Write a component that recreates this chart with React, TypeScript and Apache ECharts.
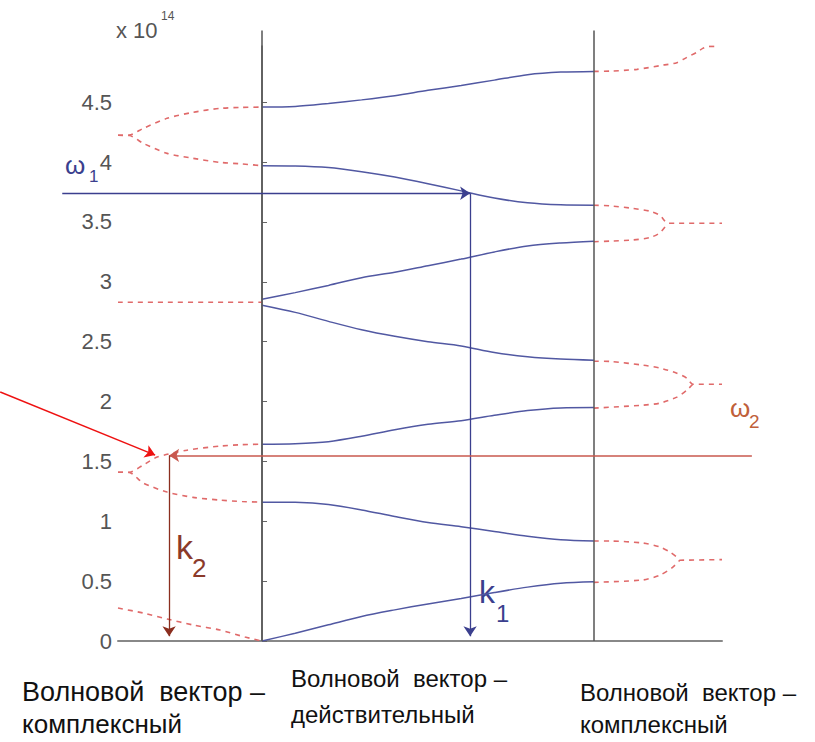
import React, { useEffect, useRef } from "react";
import * as echarts from "echarts";

// ---- data (ω in units of 1e14 rad/s, k in relative units; middle zone = real k from 0 to 1) ----
const yTicks = [0, 0.5, 1, 1.5, 2, 2.5, 3, 3.5, 4, 4.5];

const kReal = [0, 0.1, 0.2, 0.3, 0.4, 0.5, 0.6, 0.7, 0.8, 0.9, 1.0];
const band1 = [0, 0.065, 0.135, 0.205, 0.26, 0.31, 0.355, 0.405, 0.45, 0.483, 0.495];
const band2 = [1.16, 1.158, 1.14, 1.095, 1.04, 0.99, 0.955, 0.915, 0.875, 0.845, 0.835];
const band3 = [1.644, 1.648, 1.665, 1.71, 1.765, 1.81, 1.84, 1.885, 1.925, 1.947, 1.95];
const band4 = [2.805, 2.745, 2.67, 2.6, 2.545, 2.5, 2.465, 2.41, 2.375, 2.355, 2.345];
const band5 = [2.855, 2.91, 2.97, 3.035, 3.08, 3.135, 3.19, 3.25, 3.3, 3.325, 3.34];
const band6 = [3.97, 3.968, 3.955, 3.92, 3.875, 3.82, 3.76, 3.7, 3.66, 3.643, 3.64];
const band7 = [4.46, 4.465, 4.49, 4.52, 4.555, 4.6, 4.64, 4.685, 4.73, 4.752, 4.758];

// left zone (complex k)
const lTopUpK = [-0.434, -0.4, -0.358, -0.286, -0.208, -0.127, -0.06, 0];
const lTopUpW = [4.224, 4.226, 4.282, 4.366, 4.416, 4.449, 4.457, 4.46];
const lTopLoK = [-0.434, -0.4, -0.358, -0.286, -0.208, -0.127, -0.06, 0];
const lTopLoW = [4.224, 4.222, 4.157, 4.073, 4.032, 3.998, 3.985, 3.97];
const lMidK = [-0.434, 0];
const lMidW = [2.83, 2.83];
const lLowUpK = [-0.434, -0.4, -0.358, -0.316, -0.226, -0.127, -0.06, 0];
const lLowUpW = [1.41, 1.41, 1.47, 1.536, 1.594, 1.628, 1.64, 1.644];
const lLowLoK = [-0.434, -0.4, -0.358, -0.286, -0.208, -0.127, -0.06, 0];
const lLowLoW = [1.41, 1.408, 1.32, 1.244, 1.2, 1.177, 1.165, 1.16];
const lBotK = [-0.434, -0.358, -0.286, -0.208, -0.127, -0.051, 0];
const lBotW = [0.275, 0.234, 0.184, 0.134, 0.092, 0.033, 0];

// right zone (complex k)
const rTopK = [1, 1.048, 1.13, 1.208, 1.25, 1.28, 1.31, 1.328, 1.345, 1.37];
const rTopW = [4.758, 4.76, 4.775, 4.81, 4.83, 4.875, 4.917, 4.95, 4.967, 4.967];
const r3UpK = [1, 1.048, 1.117, 1.169, 1.199, 1.223, 1.386];
const r3UpW = [3.64, 3.635, 3.614, 3.59, 3.556, 3.49, 3.49];
const r3LoK = [1, 1.048, 1.117, 1.169, 1.199, 1.223];
const r3LoW = [3.335, 3.34, 3.35, 3.37, 3.41, 3.49];
const r2UpK = [1, 1.048, 1.148, 1.199, 1.25, 1.28, 1.298, 1.386];
const r2UpW = [2.337, 2.335, 2.304, 2.28, 2.237, 2.195, 2.145, 2.145];
const r2LoK = [1, 1.148, 1.199, 1.25, 1.28, 1.298];
const r2LoW = [1.945, 1.97, 1.987, 2.037, 2.095, 2.145];
const r1UpK = [1, 1.048, 1.148, 1.199, 1.229, 1.25, 1.259, 1.386];
const r1UpW = [0.835, 0.835, 0.818, 0.785, 0.743, 0.7, 0.675, 0.68];
const r1LoK = [1, 1.148, 1.199, 1.235, 1.259];
const r1LoW = [0.49, 0.51, 0.55, 0.61, 0.675];

// arrows
const omega1 = 3.74;
const k1 = 0.627;
const omega2 = 1.55;
const k2 = -0.28;
const zoneBounds = [0, 1];

const BLUE = "#5158a2";
const NAVY = "#3b3f8e";
const RED_DASH = "#e06a6a";
const GRAY = "#555555";

function zip(k: number[], w: number[]) {
  return k.map((v, i) => [v, w[i]]);
}

export default function App() {
  const ref = useRef<HTMLDivElement>(null);
  useEffect(() => {
    if (!ref.current) return;
    const chart = echarts.init(ref.current, undefined, { renderer: "svg" });

    const realBands = [band1, band2, band3, band4, band5, band6, band7];
    const complexBranches: [number[], number[]][] = [
      [lTopUpK, lTopUpW], [lTopLoK, lTopLoW], [lMidK, lMidW], [lLowUpK, lLowUpW],
      [lLowLoK, lLowLoW], [lBotK, lBotW], [rTopK, rTopW], [r3UpK, r3UpW], [r3LoK, r3LoW],
      [r2UpK, r2UpW], [r2LoK, r2LoW], [r1UpK, r1UpW], [r1LoK, r1LoW],
    ];

    const series: any[] = [];
    realBands.forEach((b) =>
      series.push({
        type: "line",
        data: zip(kReal, b),
        smooth: 0.3,
        symbol: "none",
        lineStyle: { color: BLUE, width: 1.5 },
        z: 3,
      })
    );
    complexBranches.forEach(([k, w]) =>
      series.push({
        type: "line",
        data: zip(k, w),
        smooth: 0.25,
        symbol: "none",
        lineStyle: { color: RED_DASH, width: 1.6, type: [5, 5] },
        z: 2,
      })
    );
    // zone boundaries
    series.push({
      type: "lines",
      coordinateSystem: "cartesian2d",
      clip: false,
      symbol: "none",
      lineStyle: { color: GRAY, width: 1.5, opacity: 1 },
      data: zoneBounds.map((x) => ({ coords: [[x, 0], [x, 5.1]] })),
      z: 4,
    });
    // arrows
    series.push({
      type: "lines",
      coordinateSystem: "cartesian2d",
      clip: false,
      symbol: ["none", "arrow"],
      symbolSize: 10,
      data: [
        { coords: [[-0.602, omega1], [k1, omega1]], lineStyle: { color: NAVY, width: 1.3, opacity: 1 } },
        { coords: [[k1, omega1], [k1, 0.04]], lineStyle: { color: NAVY, width: 1.3, opacity: 1 } },
        { coords: [[1.476, omega2], [k2, omega2]], lineStyle: { color: "#c8584e", width: 1.5, opacity: 1 } },
        { coords: [[k2, omega2], [k2, 0.04]], lineStyle: { color: "#8b2e1f", width: 1.3, opacity: 1 } },
        { coords: [[-0.789, 2.08], [-0.322, 1.553]], lineStyle: { color: "#ee1111", width: 1.5, opacity: 1 } },
      ],
      z: 5,
    });

    const textFont = (size: number) => `${size}px "Liberation Sans", Arial, sans-serif`;
    const graphic: any[] = [
      { type: "text", x: 116, y: 30, style: { text: "x 10", font: textFont(22), fill: GRAY, textVerticalAlign: "middle" } },
      { type: "text", x: 161, y: 16, style: { text: "14", font: textFont(12), fill: GRAY, textVerticalAlign: "middle" } },
      { type: "text", x: 65, y: 165, style: { text: "ω", font: textFont(26), fill: NAVY, textVerticalAlign: "middle" } },
      { type: "text", x: 89, y: 176, style: { text: "1", font: textFont(17), fill: NAVY, textVerticalAlign: "middle" } },
      { type: "text", x: 730, y: 408, style: { text: "ω", font: textFont(26), fill: "#c0603a", textVerticalAlign: "middle" } },
      { type: "text", x: 749, y: 421, style: { text: "2", font: textFont(19), fill: "#c0603a", textVerticalAlign: "middle" } },
      { type: "text", x: 176, y: 547, style: { text: "k", font: textFont(34), fill: "#8b3a2a", textVerticalAlign: "middle" } },
      { type: "text", x: 192, y: 568, style: { text: "2", font: textFont(26), fill: "#8b3a2a", textVerticalAlign: "middle" } },
      { type: "text", x: 479, y: 592, style: { text: "k", font: textFont(32), fill: NAVY, textVerticalAlign: "middle" } },
      { type: "text", x: 496, y: 613, style: { text: "1", font: textFont(24), fill: NAVY, textVerticalAlign: "middle" } },
      { type: "text", x: 22, y: 692, style: { text: "Волновой  вектор –", font: textFont(27), fill: "#111", textVerticalAlign: "middle" } },
      { type: "text", x: 22, y: 724, style: { text: "комплексный", font: textFont(26), fill: "#111", textVerticalAlign: "middle" } },
      { type: "text", x: 291, y: 678, style: { text: "Волновой  вектор –", font: textFont(24), fill: "#111", textVerticalAlign: "middle" } },
      { type: "text", x: 291, y: 714, style: { text: "действительный", font: textFont(24), fill: "#111", textVerticalAlign: "middle" } },
      { type: "text", x: 580, y: 692, style: { text: "Волновой  вектор –", font: textFont(24), fill: "#111", textVerticalAlign: "middle" } },
      { type: "text", x: 580, y: 724, style: { text: "комплексный", font: textFont(24), fill: "#111", textVerticalAlign: "middle" } },
    ];

    chart.setOption({
      animation: false,
      backgroundColor: "#ffffff",
      grid: { left: 118, right: 93, top: 46, bottom: 101, containLabel: false },
      xAxis: {
        type: "value",
        min: -0.434,
        max: 1.386,
        axisLine: { show: true, lineStyle: { color: "#888", width: 2 } },
        axisTick: { show: false },
        axisLabel: { show: false },
        splitLine: { show: false },
      },
      yAxis: {
        type: "value",
        min: 0,
        max: 4.97,
        interval: 0.5,
        axisLine: { show: true, lineStyle: { color: "#666", width: 1.5 } },
        axisTick: { show: true, inside: true, length: 5, lineStyle: { color: "#666" } },
        axisLabel: {
          show: true,
          showMaxLabel: false,
          margin: 6,
          color: GRAY,
          fontSize: 22,
          fontFamily: "Liberation Sans",
          formatter: (v: number) => (yTicks.some((t) => Math.abs(t - v) < 1e-6) ? String(v) : ""),
        },
        splitLine: { show: false },
      },
      series,
      graphic,
    });
    return () => chart.dispose();
  }, []);
  return (
    <div
      ref={ref}
      style={{ position: "absolute", left: 0, top: 0, width: 815, height: 742, background: "#fff" }}
    />
  );
}
